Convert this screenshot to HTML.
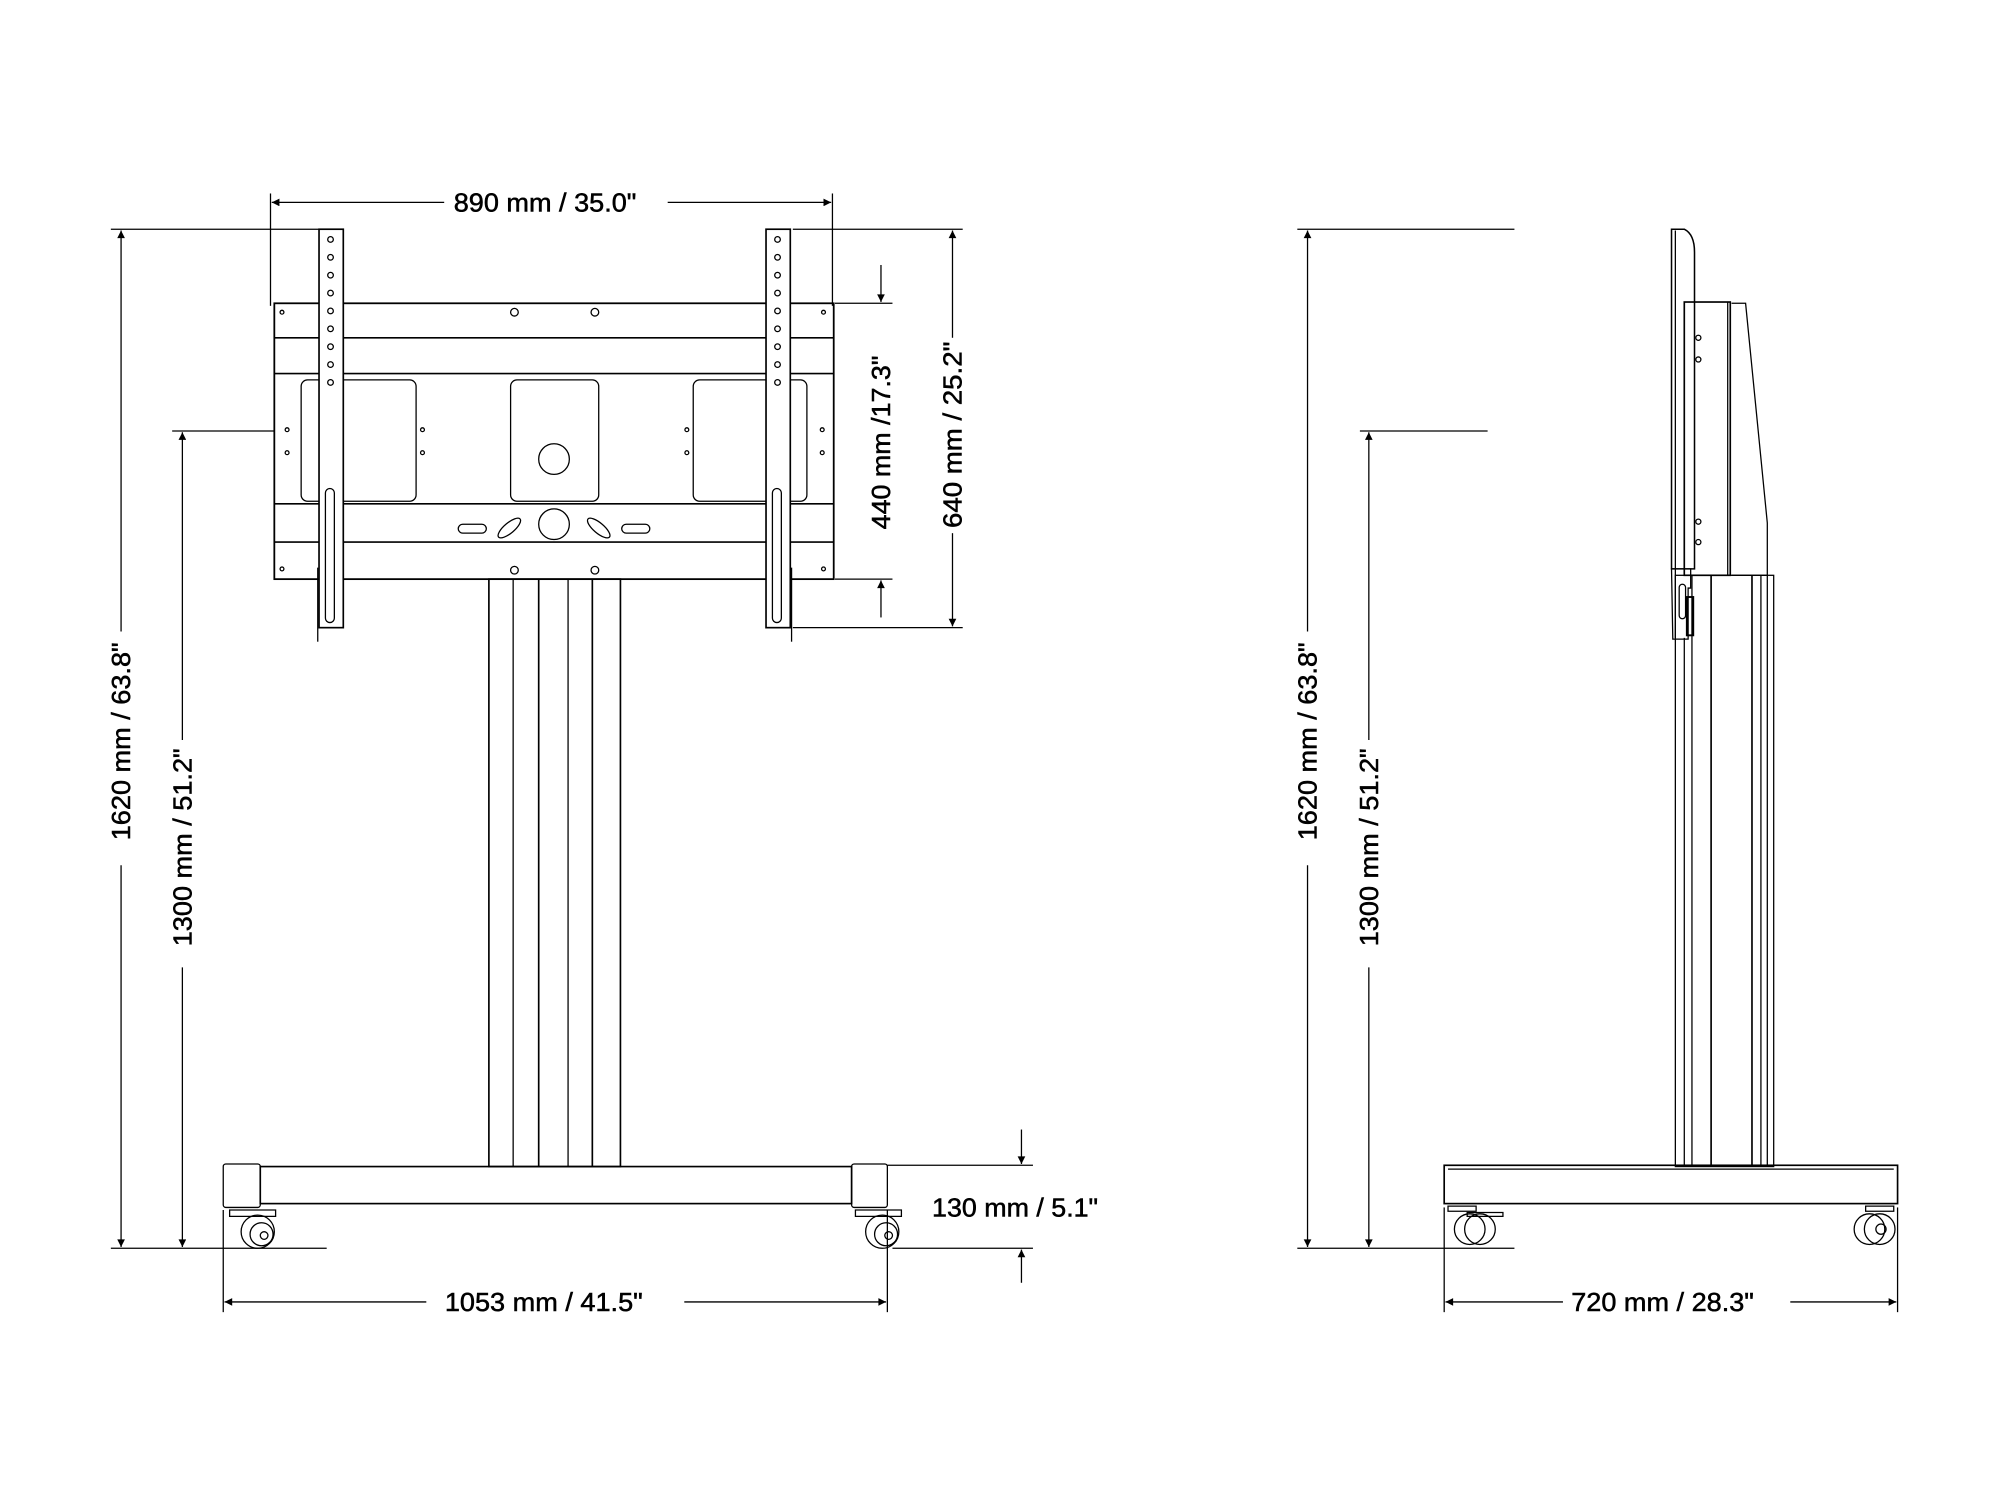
<!DOCTYPE html>
<html><head><style>html,body{margin:0;padding:0;background:#fff}svg{display:block}</style></head>
<body>
<svg width="2000" height="1500" viewBox="1.2 0.5 1566 1174.6" preserveAspectRatio="none" xmlns="http://www.w3.org/2000/svg">
<defs>
<marker id="a" viewBox="0 0 10 10" refX="10" refY="5" markerWidth="14" markerHeight="6" orient="auto-start-reverse" markerUnits="userSpaceOnUse"><path d="M0,0 L10,5 L0,10z" fill="#000"/></marker>
</defs>
<g fill="none" stroke="#000" stroke-width="1">
<line x1="213" y1="152" x2="213" y2="240"/><line x1="653" y1="152" x2="653" y2="240"/>
<line x1="349" y1="159" x2="214" y2="159" marker-end="url(#a)"/><line x1="524" y1="159" x2="652" y2="159" marker-end="url(#a)"/>
<line x1="88" y1="180" x2="252" y2="180"/><line x1="88" y1="978" x2="257" y2="978"/>
<line x1="96" y1="495" x2="96" y2="181" marker-end="url(#a)"/><line x1="96" y1="678" x2="96" y2="977" marker-end="url(#a)"/>
<line x1="136" y1="338" x2="216" y2="338"/>
<line x1="144" y1="580" x2="144" y2="339" marker-end="url(#a)"/><line x1="144" y1="758" x2="144" y2="977" marker-end="url(#a)"/>
<line x1="655" y1="238" x2="700" y2="238"/><line x1="655" y1="454" x2="700" y2="454"/>
<line x1="691" y1="208" x2="691" y2="237" marker-end="url(#a)"/><line x1="691" y1="484" x2="691" y2="455" marker-end="url(#a)"/>
<line x1="622" y1="180" x2="755" y2="180"/><line x1="622" y1="492" x2="755" y2="492"/>
<line x1="747" y1="265" x2="747" y2="181" marker-end="url(#a)"/><line x1="747" y1="418" x2="747" y2="491" marker-end="url(#a)"/>
<line x1="696" y1="913" x2="810" y2="913"/><line x1="700" y1="978" x2="810" y2="978"/>
<line x1="801" y1="885" x2="801" y2="912" marker-end="url(#a)"/><line x1="801" y1="1005" x2="801" y2="979" marker-end="url(#a)"/>
<line x1="176" y1="948" x2="176" y2="1028"/><line x1="696" y1="948" x2="696" y2="1028"/>
<line x1="335" y1="1020" x2="177" y2="1020" marker-end="url(#a)"/><line x1="537" y1="1020" x2="695" y2="1020" marker-end="url(#a)"/>
<rect x="216" y="238" width="438" height="216" stroke-width="1.4"/>
<line x1="216" y1="265" x2="654" y2="265" stroke-width="1.3"/><line x1="216" y1="293" x2="654" y2="293" stroke-width="1.3"/>
<line x1="216" y1="395" x2="654" y2="395" stroke-width="1.3"/><line x1="216" y1="425" x2="654" y2="425" stroke-width="1.3"/>
<rect x="237" y="298" width="90" height="95" rx="5"/><rect x="401" y="298" width="69" height="95" rx="5"/><rect x="544" y="298" width="89" height="95" rx="5"/>
<circle cx="435" cy="360" r="12"/><circle cx="435" cy="411" r="12"/>
<rect x="360" y="411" width="22" height="7" rx="3.5"/><rect x="488" y="411" width="22" height="7" rx="3.5"/>
<ellipse cx="400" cy="414" rx="11" ry="4" transform="rotate(-40 400 414)"/><ellipse cx="470" cy="414" rx="11" ry="4" transform="rotate(40 470 414)"/>
<circle cx="404" cy="245" r="3"/><circle cx="467" cy="245" r="3"/><circle cx="404" cy="447" r="3"/><circle cx="467" cy="447" r="3"/>
<circle cx="226" cy="337" r="1.5"/><circle cx="226" cy="355" r="1.5"/><circle cx="332" cy="337" r="1.5"/><circle cx="332" cy="355" r="1.5"/>
<circle cx="539" cy="337" r="1.5"/><circle cx="539" cy="355" r="1.5"/><circle cx="645" cy="337" r="1.5"/><circle cx="645" cy="355" r="1.5"/>
<circle cx="222" cy="245" r="1.5"/><circle cx="646" cy="245" r="1.5"/><circle cx="222" cy="446" r="1.5"/><circle cx="646" cy="446" r="1.5"/>
<rect x="251" y="180" width="19" height="312" fill="#fff" stroke-width="1.3"/><rect x="601" y="180" width="19" height="312" fill="#fff" stroke-width="1.3"/>
<rect x="256" y="383" width="7" height="105" rx="3.5"/><rect x="606" y="383" width="7" height="105" rx="3.5"/>
<line x1="250" y1="445" x2="250" y2="503"/><line x1="621" y1="445" x2="621" y2="503"/>
<g>
<circle cx="260" cy="188" r="2.2"/><circle cx="260" cy="202" r="2.2"/><circle cx="260" cy="216" r="2.2"/><circle cx="260" cy="230" r="2.2"/><circle cx="260" cy="244" r="2.2"/><circle cx="260" cy="258" r="2.2"/><circle cx="260" cy="272" r="2.2"/><circle cx="260" cy="286" r="2.2"/><circle cx="260" cy="300" r="2.2"/>
<circle cx="610" cy="188" r="2.2"/><circle cx="610" cy="202" r="2.2"/><circle cx="610" cy="216" r="2.2"/><circle cx="610" cy="230" r="2.2"/><circle cx="610" cy="244" r="2.2"/><circle cx="610" cy="258" r="2.2"/><circle cx="610" cy="272" r="2.2"/><circle cx="610" cy="286" r="2.2"/><circle cx="610" cy="300" r="2.2"/>
</g>
<rect x="384" y="454" width="103" height="460" stroke-width="1.3"/>
<line x1="403" y1="454" x2="403" y2="914"/><line x1="423" y1="454" x2="423" y2="914" stroke-width="1.3"/><line x1="446" y1="454" x2="446" y2="914"/><line x1="465" y1="454" x2="465" y2="914" stroke-width="1.3"/>
<rect x="205" y="914" width="463" height="29" stroke-width="1.3"/>
<rect x="176" y="912" width="29" height="34" rx="2"/><rect x="668" y="912" width="28" height="34" rx="2"/>
<g>
<path d="M181 948h36v5h-36z"/><circle cx="203" cy="965" r="13"/><circle cx="206" cy="967" r="9"/><circle cx="208" cy="968" r="3"/>
<path d="M671 948h36v5h-36z"/><circle cx="692" cy="965" r="13"/><circle cx="695" cy="967" r="9"/><circle cx="697" cy="968" r="3"/>
</g>
<line x1="1017" y1="180" x2="1187" y2="180"/><line x1="1017" y1="978" x2="1187" y2="978"/>
<line x1="1025" y1="495" x2="1025" y2="181" marker-end="url(#a)"/><line x1="1025" y1="678" x2="1025" y2="977" marker-end="url(#a)"/>
<line x1="1066" y1="338" x2="1166" y2="338"/>
<line x1="1073" y1="580" x2="1073" y2="339" marker-end="url(#a)"/><line x1="1073" y1="758" x2="1073" y2="977" marker-end="url(#a)"/>
<line x1="1132" y1="946" x2="1132" y2="1028"/><line x1="1487" y1="946" x2="1487" y2="1028"/>
<line x1="1225" y1="1020" x2="1133" y2="1020" marker-end="url(#a)"/><line x1="1403" y1="1020" x2="1486" y2="1020" marker-end="url(#a)"/>
<path d="M1310 180h10q8 4 8 18v248h-18z" stroke-width="1.2"/><line x1="1313" y1="181" x2="1313" y2="500"/>
<rect x="1320" y="237" width="36" height="214" stroke-width="1.3"/><line x1="1354" y1="237" x2="1354" y2="451"/>
<path d="M1357 238h11l17 172v41h-28"/>
<circle cx="1331" cy="265" r="2"/><circle cx="1331" cy="282" r="2"/><circle cx="1331" cy="409" r="2"/><circle cx="1331" cy="425" r="2"/>
<path d="M1310 446h15v15h-2v40h-12z"/><rect x="1316" y="458" width="5" height="27" rx="2.5"/>
<rect x="1322" y="468" width="5" height="30" stroke-width="1.5"/>
<rect x="1313" y="451" width="77" height="463"/>
<line x1="1320" y1="500" x2="1320" y2="914"/><line x1="1326" y1="451" x2="1326" y2="914"/><line x1="1341" y1="451" x2="1341" y2="914" stroke-width="1.3"/>
<line x1="1373" y1="451" x2="1373" y2="914" stroke-width="1.3"/><line x1="1380" y1="451" x2="1380" y2="914"/><line x1="1385" y1="451" x2="1385" y2="914"/>
<rect x="1132" y="913" width="355" height="30" stroke-width="1.3"/><line x1="1135" y1="916" x2="1484" y2="916"/>
<path d="M1135 945h22v4h-22z"/><path d="M1462 945h22v4h-22z"/>
<circle cx="1152" cy="963" r="12"/><circle cx="1160" cy="963" r="12"/><path d="M1150 950h28v3h-28z"/>
<circle cx="1465" cy="963" r="12"/><circle cx="1473" cy="963" r="12"/><circle cx="1474" cy="963" r="4"/>
</g>
<g font-family="Liberation Sans, sans-serif" font-size="20" fill="#000" stroke="#000" stroke-width="0.4" text-anchor="middle">
<text x="428" y="166" textLength="143" lengthAdjust="spacingAndGlyphs">890 mm / 35.0"</text>
<text x="427" y="1027" textLength="155" lengthAdjust="spacingAndGlyphs">1053 mm / 41.5"</text>
<text x="1303" y="1027" textLength="143" lengthAdjust="spacingAndGlyphs">720 mm / 28.3"</text>
<text x="796" y="953" textLength="130" lengthAdjust="spacingAndGlyphs">130 mm / 5.1"</text>
<text transform="translate(103 581) rotate(-90)" textLength="155" lengthAdjust="spacingAndGlyphs">1620 mm / 63.8"</text>
<text transform="translate(151 664) rotate(-90)" textLength="155" lengthAdjust="spacingAndGlyphs">1300 mm / 51.2"</text>
<text transform="translate(1032 581) rotate(-90)" textLength="155" lengthAdjust="spacingAndGlyphs">1620 mm / 63.8"</text>
<text transform="translate(1080 664) rotate(-90)" textLength="155" lengthAdjust="spacingAndGlyphs">1300 mm / 51.2"</text>
<text transform="translate(698 347) rotate(-90)" textLength="136" lengthAdjust="spacingAndGlyphs">440 mm /17.3"</text>
<text transform="translate(754 341) rotate(-90)" textLength="146" lengthAdjust="spacingAndGlyphs">640 mm / 25.2"</text>
</g>
</svg>
</body></html>
